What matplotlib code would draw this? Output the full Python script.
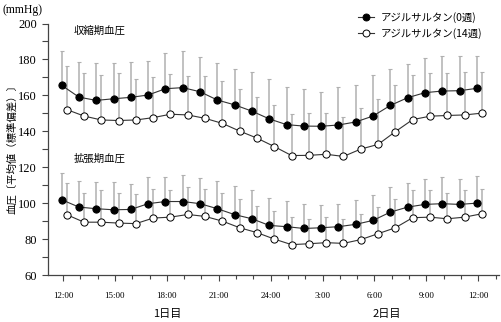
import numpy as np
import matplotlib
matplotlib.use("Agg")
import matplotlib.pyplot as plt
from matplotlib.lines import Line2D
from matplotlib.ticker import MultipleLocator, FixedLocator
import matplotlib.transforms as mtransforms

# hourly readings, 12:00 on day 1 through 12:00 on day 2
hours = np.arange(12, 37)
tick_hours = [12, 15, 18, 21, 24, 27, 30, 33, 36]
tick_labels = ["12:00", "15:00", "18:00", "21:00", "24:00", "3:00", "6:00", "9:00", "12:00"]

# systolic (mean, SD)
sys0 = [165.6, 159.0, 157.2, 158.1, 158.9, 160.2, 163.7, 164.3, 162.0, 157.4, 154.7, 151.2, 146.9,
        143.7, 142.9, 142.8, 143.5, 145.2, 148.5, 154.4, 158.7, 161.5, 162.4, 162.6, 163.9]
sys0_sd = [18.9, 19.5, 20.9, 20.0, 19.6, 18.7, 20.1, 20.2, 19.5, 20.7, 20.2, 21.9, 22.4,
           21.1, 20.8, 19.2, 20.9, 20.6, 23.1, 20.0, 18.5, 19.1, 19.3, 19.1, 18.1]
sys14 = [152.1, 148.5, 146.3, 146.0, 146.3, 147.6, 149.5, 149.1, 147.2, 144.4, 140.1, 136.2, 131.5,
         126.5, 126.6, 127.2, 126.0, 130.1, 132.7, 139.8, 146.5, 148.4, 148.8, 149.1, 150.1]
sys14_sd = [24.0, 24.2, 25.3, 26.5, 22.7, 22.8, 22.3, 21.7, 23.8, 23.8, 23.4, 22.8, 23.4,
            23.2, 23.6, 22.9, 22.1, 23.0, 25.4, 26.1, 24.8, 24.2, 23.8, 23.9, 22.9]

# diastolic (mean, SD)
dia0 = [101.9, 97.8, 96.9, 96.3, 96.5, 99.7, 100.9, 100.9, 99.7, 96.9, 93.6, 91.3, 87.6,
        86.9, 85.9, 86.3, 86.9, 88.2, 90.4, 95.0, 97.8, 99.3, 99.7, 99.3, 100.0]
dia0_sd = [15.0, 14.8, 14.6, 15.2, 14.3, 14.6, 13.9, 14.8, 14.4, 15.5, 15.8, 15.8, 15.0,
           14.4, 13.5, 12.6, 12.9, 13.7, 14.3, 13.9, 13.5, 14.2, 14.7, 13.9, 15.0]
dia14 = [93.6, 89.4, 89.4, 88.9, 88.6, 91.7, 92.2, 93.7, 92.6, 90.0, 86.3, 83.6, 80.0,
         76.9, 77.4, 78.0, 77.6, 79.7, 83.0, 86.3, 91.9, 92.2, 91.3, 92.2, 94.1]
dia14_sd = [17.7, 16.4, 17.7, 16.9, 16.4, 16.3, 14.9, 15.4, 15.4, 15.8, 15.8, 14.7, 15.9,
            15.3, 13.9, 14.2, 13.7, 14.4, 14.8, 16.1, 15.2, 15.2, 14.3, 15.2, 13.5]

labels = ["アジルサルタン(0週)", "アジルサルタン(14週)"]

jp = ["Noto Sans CJK JP", "DejaVu Sans"]
serif = ["Liberation Serif", "DejaVu Serif"]

fig = plt.figure(figsize=(5.02, 3.22), dpi=100)
ax = fig.add_axes([48 / 502, 1 - 275 / 322, 451 / 502, 251.5 / 322])

line_col = "#333333"
err_col = "#b0b0b0"

def draw(x, mean, sd, face):
    ax.errorbar(x, mean, yerr=[np.zeros(len(sd)), sd], fmt="none", ecolor=err_col,
                elinewidth=1.1, capsize=1.5, capthick=0.8, zorder=1)
    ax.plot(x, mean, color=line_col, lw=0.8, marker="o", ms=5.2, mfc=face,
            mec="black", mew=0.7, zorder=3)

draw(hours - 0.08, sys0, sys0_sd, "black")
draw(hours + 0.21, sys14, sys14_sd, "white")
draw(hours - 0.08, dia0, dia0_sd, "black")
draw(hours + 0.21, dia14, dia14_sd, "white")

ax.set_xlim(11.13, 37.2)
ax.set_ylim(60, 200)

ax.spines["top"].set_visible(False)
ax.spines["right"].set_visible(False)
for s in ["left", "bottom"]:
    ax.spines[s].set_color("#444444")
    ax.spines[s].set_linewidth(0.9)

ax.xaxis.set_major_locator(FixedLocator(tick_hours))
ax.xaxis.set_minor_locator(MultipleLocator(1))
ax.set_xticklabels(tick_labels, family=serif, fontsize=6.5)
ax.yaxis.set_major_locator(MultipleLocator(20))
ax.yaxis.set_minor_locator(MultipleLocator(10))
for lbl in ax.get_yticklabels():
    lbl.set_family(serif)
    lbl.set_fontsize(9)
ax.tick_params(axis="x", which="major", length=4, width=0.8, color="#444444", pad=8)
ax.tick_params(axis="x", which="minor", length=3, width=0.8, color="#444444")
ax.tick_params(axis="y", which="major", length=4, width=0.8, color="#444444", pad=4)
ax.tick_params(axis="y", which="minor", length=4, width=0.8, color="#444444")

ax.text(14.1, 196, "収縮期血圧", family=jp, fontsize=7.5, ha="center", va="center")
ax.text(14.1, 124.8, "拡張期血圧", family=jp, fontsize=7.5, ha="center", va="center")

trans = mtransforms.blended_transform_factory(ax.transData, fig.transFigure)
ax.text(18, 1 - 314 / 322, "1日目", family=jp, fontsize=8, ha="center", va="center",
        transform=trans)
ax.text(30.74, 1 - 314 / 322, "2日目", family=jp, fontsize=8, ha="center", va="center",
        transform=trans)

fig.text(3 / 502, 1 - 10 / 322, "(mmHg)", family=serif, fontsize=8.5, va="center", ha="left")
fig.text(12 / 502, 1 - 147 / 322, "血圧〔平均値（標準偏差）〕", family=jp, fontsize=7.5,
         rotation=90, ha="center", va="center")

handles = [
    Line2D([], [], color=line_col, lw=0.8, marker="o", ms=5, mfc="black", mec="black", mew=0.7),
    Line2D([], [], color=line_col, lw=0.8, marker="o", ms=5, mfc="white", mec="black", mew=0.7),
]
fig.legend(handles, labels, loc="upper left", bbox_to_anchor=(353 / 502, 1 - 7 / 322),
           frameon=False, handlelength=1.5, handletextpad=0.7, labelspacing=0.45,
           borderpad=0, prop={"family": jp, "size": 7.5})

fig.savefig("out.png", dpi=100)
